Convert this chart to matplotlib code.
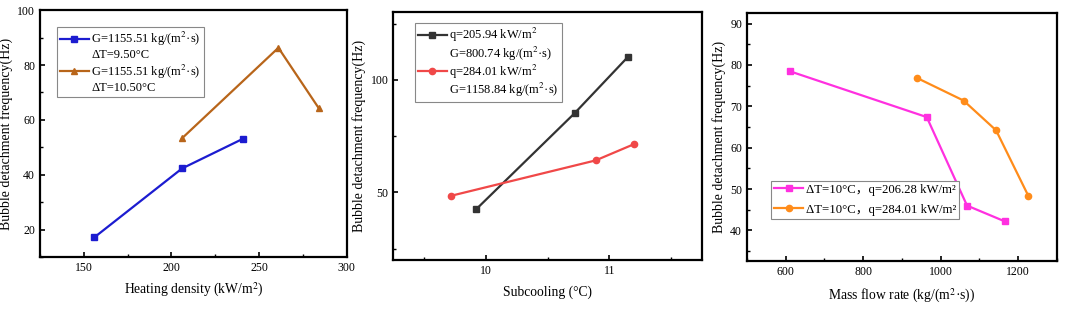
import matplotlib.pyplot as plt
from matplotlib.lines import Line2D
from matplotlib.ticker import MultipleLocator

plt.rcParams['font.family'] = ['Liberation Serif', 'Noto Sans CJK SC']
plt.rcParams['mathtext.fontset'] = 'stix'

# Panel 1: heating density
q_a = [156, 206, 241]
f_a = [17.2, 42.3, 53.2]
q_b = [206, 261, 284]
f_b = [53.3, 86.3, 64.3]

# Panel 2: subcooling
sc_a = [9.92, 10.72, 11.15]
f_sc_a = [42.4, 85.2, 110.1]
sc_b = [9.72, 10.89, 11.20]
f_sc_b = [48.5, 64.2, 71.4]

# Panel 3: mass flow rate
g_a = [610, 964, 1068, 1165]
f_g_a = [78.5, 67.4, 46.0, 42.2]
g_b = [938, 1059, 1143, 1226]
f_g_b = [76.9, 71.4, 64.2, 48.4]

ylab = 'Bubble detachment frequency(Hz)'

fig = plt.figure(figsize=(10.65, 3.09), dpi=100)
ax1 = fig.add_axes([0.0376, 0.168, 0.288, 0.799])
ax2 = fig.add_axes([0.3693, 0.159, 0.2896, 0.801])
ax3 = fig.add_axes([0.7014, 0.154, 0.291, 0.803])

def style(ax):
    for s in ax.spines.values():
        s.set_linewidth(1.6)
    ax.tick_params(which='both', direction='in', labelsize=8.5, top=False, right=False)
    ax.tick_params(which='major', length=3.5, width=1.2)
    ax.tick_params(which='minor', length=2, width=1.0)
    ax.set_ylabel(ylab, fontsize=10, labelpad=3)

blank = Line2D([], [], linestyle='none')
leg_kw = dict(fontsize=9, fancybox=False, framealpha=1, edgecolor='#888888',
              handlelength=2.3, labelspacing=0.1, borderpad=0.25, handletextpad=0.2,
              borderaxespad=0)

# --- panel 1
l1, = ax1.plot(q_a, f_a, color='#1c1cd0', marker='s', ms=4, lw=1.6)
l2, = ax1.plot(q_b, f_b, color='#b8651a', marker='^', ms=4, lw=1.6)
ax1.set_xlim(125, 300)
ax1.set_ylim(10, 100)
ax1.xaxis.set_major_locator(MultipleLocator(50))
ax1.xaxis.set_minor_locator(MultipleLocator(25))
ax1.yaxis.set_major_locator(MultipleLocator(20))
ax1.yaxis.set_minor_locator(MultipleLocator(10))
ax1.set_xlabel('Heating density (kW/m$^2$)', fontsize=9.8, labelpad=5)
style(ax1)
leg = ax1.legend([l1, blank, l2, blank],
                 ['G=1155.51 kg/(m$^2$·s)', 'ΔT=9.50°C', 'G=1155.51 kg/(m$^2$·s)', 'ΔT=10.50°C'],
                 loc='upper left', bbox_to_anchor=(0.055, 0.932), **leg_kw)
leg.get_frame().set_linewidth(0.8)

# --- panel 2
l3, = ax2.plot(sc_a, f_sc_a, color='#333333', marker='s', ms=4, lw=1.6)
l4, = ax2.plot(sc_b, f_sc_b, color='#f04848', marker='o', ms=4.5, lw=1.6)
ax2.set_xlim(9.25, 11.75)
ax2.set_ylim(20, 130)
ax2.xaxis.set_major_locator(MultipleLocator(1))
ax2.xaxis.set_minor_locator(MultipleLocator(0.5))
ax2.yaxis.set_major_locator(MultipleLocator(50))
ax2.yaxis.set_minor_locator(MultipleLocator(25))
ax2.set_xlabel('Subcooling (°C)', fontsize=9.8, labelpad=6)
style(ax2)
leg2_kw = dict(leg_kw, labelspacing=0.0)
leg = ax2.legend([l3, blank, l4, blank],
                 ['q=205.94 kW/m$^2$', 'G=800.74 kg/(m$^2$·s)', 'q=284.01 kW/m$^2$', 'G=1158.84 kg/(m$^2$·s)'],
                 loc='upper left', bbox_to_anchor=(0.07, 0.956), **leg2_kw)
leg.get_frame().set_linewidth(0.8)

# --- panel 3
l5, = ax3.plot(g_a, f_g_a, color='#ff30e0', marker='s', ms=4, lw=1.6)
l6, = ax3.plot(g_b, f_g_b, color='#ff8c1a', marker='o', ms=4.5, lw=1.6)
ax3.set_xlim(500, 1300)
ax3.set_ylim(32.5, 92.5)
ax3.xaxis.set_major_locator(MultipleLocator(200))
ax3.xaxis.set_minor_locator(MultipleLocator(100))
ax3.yaxis.set_major_locator(MultipleLocator(10))
ax3.yaxis.set_minor_locator(MultipleLocator(5))
ax3.set_xlabel('Mass flow rate (kg/(m$^2$·s))', fontsize=9.8, labelpad=6)
style(ax3)
leg3_kw = dict(leg_kw, fontsize=9.2, labelspacing=0.6)
leg = ax3.legend([l5, l6],
                 ['ΔT=10°C，q=206.28 kW/m²', 'ΔT=10°C，q=284.01 kW/m²'],
                 loc='lower left', bbox_to_anchor=(0.077, 0.172), **leg3_kw)
leg.get_frame().set_linewidth(0.8)

plt.savefig('out.png', dpi=100)
